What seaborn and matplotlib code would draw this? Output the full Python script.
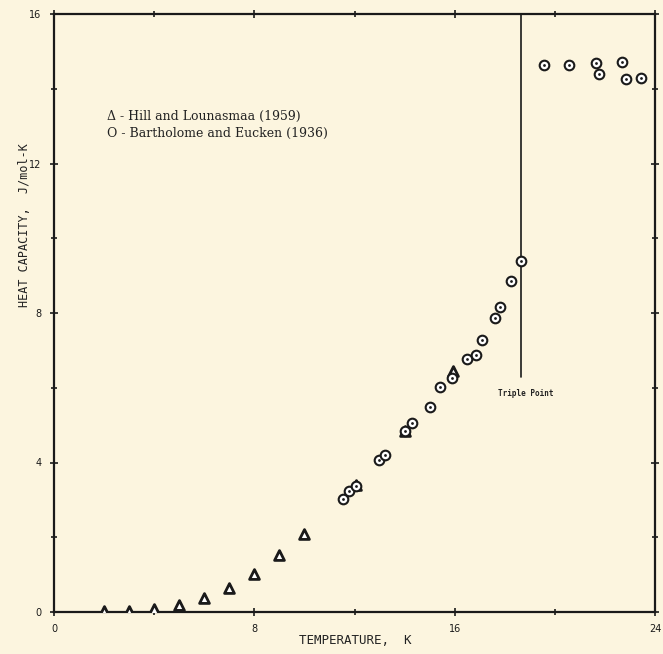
import numpy as np
import pandas as pd
import matplotlib
matplotlib.use("Agg")
import matplotlib.pyplot as plt
import seaborn as sns

# Hill and Lounasmaa (1959): temperature (K), heat capacity (J/mol-K)
hill_T = [2, 3, 4, 5, 6, 7, 8, 9, 10, 12.05, 14.0, 15.95]
hill_C = [0.03, 0.04, 0.07, 0.20, 0.37, 0.64, 1.02, 1.52, 2.09, 3.40, 4.85, 6.45]

# Bartholome and Eucken (1936)
bart_T = [11.56, 11.8, 12.07, 12.96, 13.2, 14.0, 14.28, 15.0, 15.4, 15.9, 16.48, 16.84,
          17.1, 17.6, 17.8, 18.24, 18.64, 19.56, 20.56, 21.64, 21.76, 22.68, 22.84, 23.44]
bart_C = [3.02, 3.24, 3.37, 4.06, 4.20, 4.84, 5.05, 5.48, 6.02, 6.25, 6.76, 6.87,
          7.27, 7.86, 8.16, 8.85, 9.39, 14.63, 14.63, 14.68, 14.39, 14.71, 14.25, 14.28]

# triple point
T_tp = 18.64
C_tp_low = 6.3

x_ticks = [0, 8, 16, 24]
y_ticks = [0, 4, 8, 12, 16]

paper = '#fcf5df'

sns.set_style("ticks")
plt.rcParams['font.family'] = ['DejaVu Sans']

fig = plt.figure(figsize=(6.63, 6.54), dpi=100, facecolor=paper)
ax = fig.add_axes([54/663, 42/654, 601/663, 598/654])
ax.set_facecolor(paper)

hill = pd.DataFrame({"T": hill_T, "C": hill_C})
bart = pd.DataFrame({"T": bart_T, "C": bart_C})

sns.scatterplot(data=hill, x="T", y="C", marker="^", s=50, facecolor="white",
                edgecolor="#1a1a1a", linewidth=2.0, ax=ax, zorder=3)
sns.scatterplot(data=bart, x="T", y="C", marker="o", s=48, facecolor="white",
                edgecolor="#1a1a1a", linewidth=1.5, ax=ax, zorder=4)
sns.scatterplot(data=bart, x="T", y="C", marker="o", s=4, color="#1a1a1a",
                linewidth=0, ax=ax, zorder=5)

ax.plot([T_tp, T_tp], [C_tp_low, 16], color="#1a1a1a", lw=1.2, zorder=2)
ax.text(T_tp + 0.2, C_tp_low - 0.45, "Triple Point", fontsize=5.5, ha="center",
        va="center", color="#222222", family="DejaVu Sans Mono", fontweight="bold")

ax.set_xlim(0, 24)
ax.set_ylim(0, 16)
ax.set_xticks(x_ticks)
ax.set_xticks([4, 12, 20], minor=True)
ax.set_yticks(y_ticks)
ax.set_yticks([2, 6, 10, 14], minor=True)
ax.tick_params(which="both", direction="inout", top=True, right=True,
               length=6, width=1.2, colors="#1a1a1a", labelsize=7, pad=6)
ax.tick_params(which="minor", length=5)
for s in ax.spines.values():
    s.set_linewidth(1.6)
    s.set_color("#1a1a1a")

ax.set_xlabel("")
ax.set_ylabel("")
fig.text(355/663, 1 - 640/654, "TEMPERATURE,  K", fontsize=9, family="DejaVu Sans Mono",
         ha="center", va="center", color="#222222")
fig.text(24/663, 1 - 225/654, "HEAT CAPACITY,  J/mol-K", rotation=90, fontsize=8.5,
         family="DejaVu Sans Mono", ha="center", va="center", color="#222222")

# legend as typed text
ax.text(2.1, 13.25, "Δ - Hill and Lounasmaa (1959)", fontsize=9, family="DejaVu Serif",
        va="center", color="#222222")
ax.text(2.1, 12.8, "O - Bartholome and Eucken (1936)", fontsize=9, family="DejaVu Serif",
        va="center", color="#222222")

fig.savefig("out.png", dpi=100, facecolor=paper)
